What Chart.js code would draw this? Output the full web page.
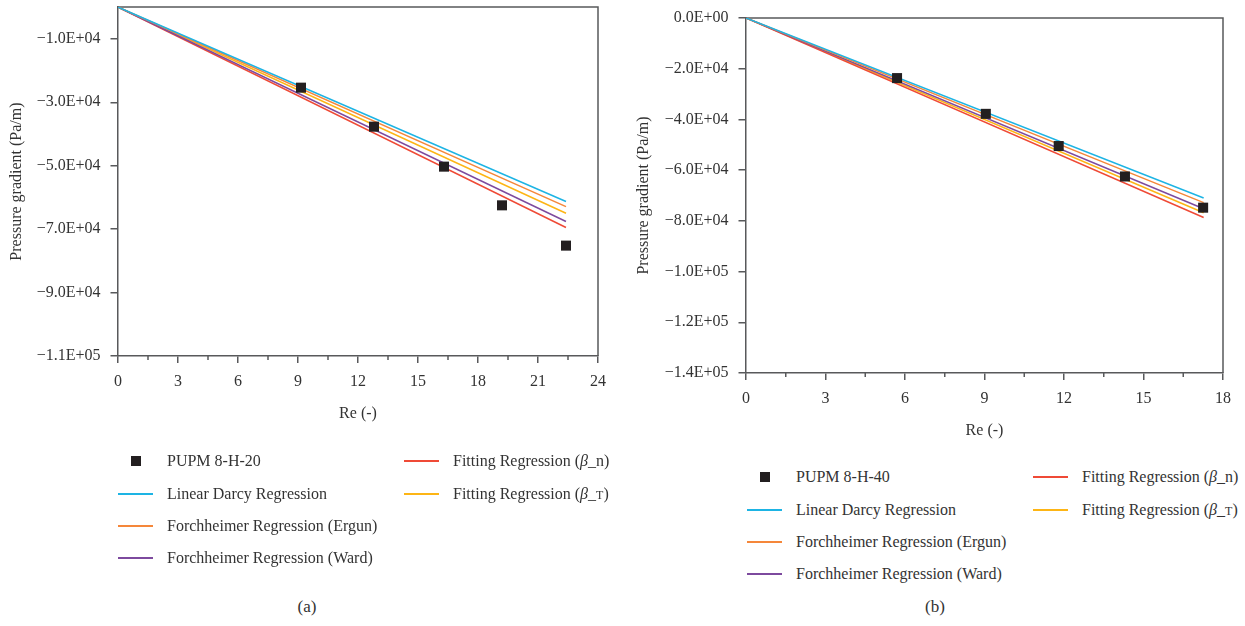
<!DOCTYPE html>
<html>
<head>
<meta charset="utf-8">
<script src="https://cdn.jsdelivr.net/npm/chart.js@4.4.0/dist/chart.umd.min.js"></script>
<style>
  body { margin: 0; width: 1245px; height: 626px; background: #fff; position: relative; overflow: hidden;
         font-family: "Liberation Serif", "DejaVu Serif", serif; color: #333; }
  canvas { position: absolute; top: 0; }
  #chartA { left: 0; }
  #chartB { left: 620px; }
  .legend { position: absolute; display: grid; grid-auto-flow: column;
            grid-template-rows: repeat(4, 32.4px); grid-template-columns: 286px 260px; font-size: 16px; }
  .item { display: flex; align-items: center; height: 32.4px; white-space: nowrap; }
  .swatch { width: 35px; height: 10px; margin-right: 14px; position: relative; }
  .swatch .ln { position: absolute; left: 0; right: 0; top: 4px; height: 2px; }
  .swatch .sq { position: absolute; left: 13px; top: 0; width: 10px; height: 10px; background: #231f20; }
  .cap { position: absolute; font-size: 17px; transform: translateX(-50%); }
</style>
</head>
<body>
<canvas id="chartA" width="620" height="430"></canvas>
<canvas id="chartB" width="625" height="450"></canvas>
<div class="legend" id="legendA" style="left:118px; top:445px;"></div>
<div class="legend" id="legendB" style="left:747px; top:461px;"></div>
<div class="cap" style="left:307px; top:597px;">(a)</div>
<div class="cap" style="left:935px; top:597px;">(b)</div>
<script>
// panel (a) PUPM 8-H-20
const reA = [9.15, 12.8, 16.3, 19.2, 22.4];
const dpA = [-25400, -37700, -50300, -62500, -75200];
const lineReA = [0, 22.4];
const darcyA = [0, -61300];
const ergunA = [0, -62900];
const wardA = [0, -67600];
const betaNA = [0, -69500];
const betaTA = [0, -65000];
const yTicksA = [-110000, -90000, -70000, -50000, -30000, -10000];

// panel (b) PUPM 8-H-40
const reB = [5.7, 9.05, 11.8, 14.3, 17.25];
const dpB = [-23700, -37800, -50500, -62500, -74800];
const lineReB = [0, 17.27];
const darcyB = [0, -71000];
const ergunB = [0, -72800];
const wardB = [0, -75200];
const betaNB = [0, -78700];
const betaTB = [0, -76800];
const yTicksB = [-140000, -120000, -100000, -80000, -60000, -40000, -20000, 0];

const modelLabels = [
  "Linear Darcy Regression",
  "Forchheimer Regression (Ergun)",
  "Forchheimer Regression (Ward)",
  "Fitting Regression (β_n)",
  "Fitting Regression (β_T)",
];
const modelColors = ["#1db4e4", "#f5873a", "#7d4a9e", "#ef4a36", "#fdb515"];
const axisColor = "#58595b";
const fontFamily = "'Liberation Serif', 'DejaVu Serif', serif";

function sci(v) {
  if (v === 0) return "0.0E+00";
  const e = Math.floor(Math.log10(Math.abs(v)) + 1e-9);
  const m = v / Math.pow(10, e);
  return (m < 0 ? "\u2212" : "") + Math.abs(m).toFixed(1) + "E" + (e < 0 ? "-" : "+") + String(Math.abs(e)).padStart(2, "0");
}

const framePlugin = {
  id: "frame",
  beforeDatasetsDraw(chart) {
    const { ctx, chartArea: a, scales: { x } } = chart;
    const half = x.options.ticks.stepSize / 2;
    ctx.save();
    ctx.strokeStyle = axisColor;
    ctx.lineWidth = 1.5;
    ctx.beginPath();
    ctx.moveTo(a.left, a.top);
    ctx.lineTo(a.right, a.top);
    ctx.lineTo(a.right, a.bottom);
    x.ticks.forEach((t, i) => {
      if (i === 0) return;
      const px = x.getPixelForValue(t.value - half);
      ctx.moveTo(px, a.bottom);
      ctx.lineTo(px, a.bottom + 4);
    });
    ctx.stroke();
    ctx.restore();
  },
};

function makeChart(id, cfg) {
  const pts = (xs, ys) => xs.map((x, i) => ({ x, y: ys[i] }));
  const models = [cfg.darcy, cfg.ergun, cfg.ward, cfg.betaN, cfg.betaT];
  const datasets = [
    {
      label: cfg.name,
      data: pts(cfg.re, cfg.dp),
      pointStyle: "rect",
      pointRadius: 7.1,
      backgroundColor: "#231f20",
      borderWidth: 0,
      showLine: false,
    },
  ].concat(models.map((m, i) => ({
    label: modelLabels[i],
    data: pts(cfg.lineRe, m),
    showLine: true,
    borderColor: modelColors[i],
    backgroundColor: modelColors[i],
    borderWidth: 1.5,
    pointRadius: 0,
  })));

  const chart = new Chart(document.getElementById(id), {
    type: "scatter",
    data: { datasets },
    plugins: [framePlugin],
    options: {
      responsive: false,
      animation: false,
      layout: { padding: { top: cfg.padTop, right: 22, left: 0, bottom: 0 } },
      plugins: { legend: { display: false }, tooltip: { enabled: false } },
      scales: {
        x: {
          type: "linear",
          min: 0,
          max: cfg.xMax,
          afterFit: (s) => { s.height = cfg.xHeight; },
          ticks: { stepSize: 3, padding: 9, color: "#333", font: { family: fontFamily, size: 16 } },
          grid: { drawOnChartArea: false, drawTicks: true, tickLength: 7, color: axisColor, lineWidth: 1.5 },
          border: { color: axisColor, width: 1.5 },
          title: { display: true, text: "Re (-)", color: "#333", padding: { top: 0, bottom: cfg.xTitlePad },
                   font: { family: fontFamily, size: 16 } },
        },
        y: {
          type: "linear",
          min: cfg.yMin,
          max: 0,
          afterFit: (s) => { s.width = cfg.yWidth; s.paddingTop = 0; s.paddingBottom = 0; },
          afterBuildTicks: (s) => { s.ticks = cfg.yTicks.map((v) => ({ value: v })); },
          ticks: { padding: 10, color: "#333", font: { family: fontFamily, size: 16 }, callback: (v) => sci(v) },
          grid: { drawOnChartArea: false, drawTicks: true, tickLength: 7.5, color: axisColor, lineWidth: 1.5 },
          border: { color: axisColor, width: 1.5 },
          title: { display: true, text: "Pressure gradient (Pa/m)", color: "#333", padding: { top: cfg.yTitlePad, bottom: 0 },
                   font: { family: fontFamily, size: 16 } },
        },
      },
    },
  });
  return chart;
}

function makeLegend(id, chart) {
  const box = document.getElementById(id);
  chart.data.datasets.forEach((ds, i) => {
    const item = document.createElement("div");
    item.className = "item";
    const sw = document.createElement("span");
    sw.className = "swatch";
    const mark = document.createElement("span");
    if (i === 0) {
      mark.className = "sq";
    } else {
      mark.className = "ln";
      mark.style.background = ds.borderColor;
    }
    sw.appendChild(mark);
    const txt = document.createElement("span");
    txt.innerHTML = ds.label.replace("β", "<i>β</i>").replace("_T", "_<span style='font-size:12px'>T</span>");
    item.appendChild(sw);
    item.appendChild(txt);
    box.appendChild(item);
  });
}

const chartA = makeChart("chartA", {
  name: "PUPM 8-H-20", re: reA, dp: dpA, lineRe: lineReA,
  darcy: darcyA, ergun: ergunA, ward: wardA, betaN: betaNA, betaT: betaTA,
  yTicks: yTicksA, yMin: -110000, xMax: 24,
  padTop: 7, yWidth: 118, xHeight: 74, xTitlePad: 7, yTitlePad: 7,
});
const chartB = makeChart("chartB", {
  name: "PUPM 8-H-40", re: reB, dp: dpB, lineRe: lineReB,
  darcy: darcyB, ergun: ergunB, ward: wardB, betaN: betaNB, betaT: betaTB,
  yTicks: yTicksB, yMin: -140000, xMax: 18,
  padTop: 18, yWidth: 126, xHeight: 77, xTitlePad: 10, yTitlePad: 14,
});
makeLegend("legendA", chartA);
makeLegend("legendB", chartB);
</script>
</body>
</html>
